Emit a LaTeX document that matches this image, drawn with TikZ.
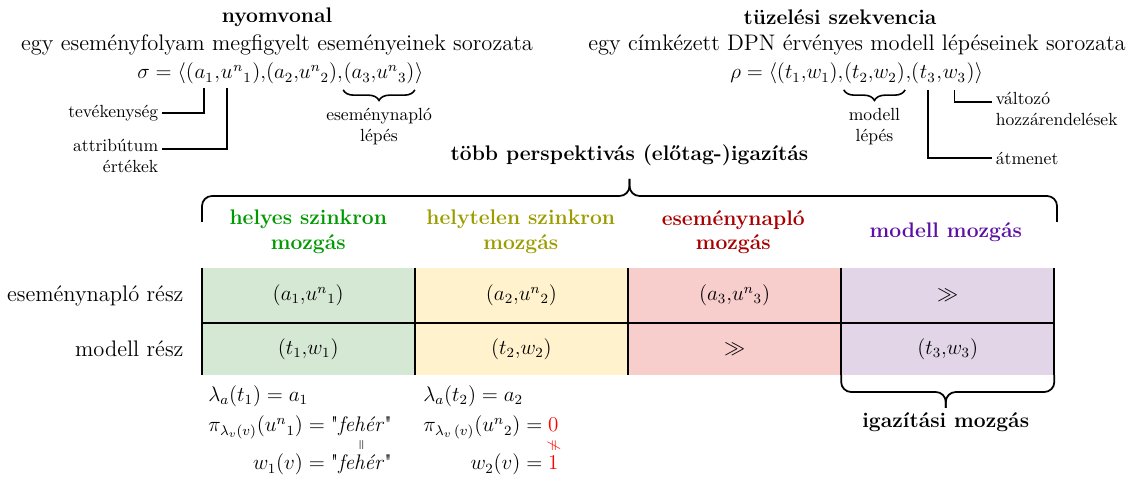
\documentclass[tikz,border=0pt]{standalone}
\usetikzlibrary{positioning,decorations.pathreplacing}
\definecolor{syncgreen}{HTML}{009900}
\definecolor{syncfill}{HTML}{D5E8D4}
\definecolor{wronggold}{HTML}{9C9C00}
\definecolor{wrongfill}{HTML}{FFF2CC}
\definecolor{logred}{HTML}{A80000}
\definecolor{logfill}{HTML}{F8CECC}
\definecolor{modelviolet}{HTML}{5E0FA6}
\definecolor{modelfill}{HTML}{E1D5E7}
\definecolor{mismatchred}{HTML}{FF0000}

\begin{document}
\begin{tikzpicture}[
    x=0.02cm, y=-0.02cm,
    every node/.style={font=\large},
    title/.style={font=\large\bfseries},
    desc/.style={font=\fontsize{12.8}{15.4}\selectfont},
    piece/.style={inner sep=0pt, anchor=base west},
    note/.style={font=\normalsize, inner sep=2pt},
    leader/.style={line width=0.9pt},
    movehead/.style={font=\large\bfseries, align=center, text=#1},
    cell/.style={minimum width=4.25cm, minimum height=#1, inner sep=0pt},
    tableline/.style={line width=1pt},
    smallbrace/.style={decorate, decoration={brace, mirror, amplitude=6pt}, line width=0.9pt},
    bigbrace/.style={rounded corners=0.2cm, line width=1pt},
]
\useasboundingbox (0,0) rectangle (1135,482);

% Trace
\node[title] (trace) at (277,17) {nyomvonal};
\node[desc] (tracedesc) at (277,45) {egy eseményfolyam megfigyelt eseményeinek sorozata};
\node[piece] (s0) at (137,79) {$\sigma = \langle($};
\node[piece] (sa1) at (s0.base east) {$a_1$};
\node[piece] (sc1) at (sa1.base east) {${,}$};
\node[piece] (su1) at (sc1.base east) {$u$};
\node[piece] (sn1) at (su1.base east) {${}^{n}{}_{1}$};
\node[piece] (s2) at (sn1.base east) {$){,}(a_2{,}u^{n}{}_{2}){,}$};
\node[piece] (s3) at (s2.base east) {$(a_3{,}u^{n}{}_{3})$};
\node[piece] (s4) at (s3.base east) {$\rangle$};

\node[note, anchor=east] (activity) at (162,113) {tevékenység};
\node[note, anchor=north east, align=right] (attrval) at (162,135) {attribútum\\értékek};

\draw[leader] ([yshift=-3pt]sa1.south) |- (activity.east);
\draw[leader] ([yshift=-3pt]su1.south |- sa1.south) |- ([yshift=-0.8em]attrval.north east);
\draw[smallbrace] ([yshift=-3pt]s3.south west) -- ([yshift=-3pt]s3.south east)
    node[midway, below=8pt, note, align=center] (logstep) {eseménynapló\\lépés};

% Firing sequence
\node[title] (firing) at (840,17) {tüzelési szekvencia};
\node[desc] (firingdesc) at (857,45) {egy címkézett DPN érvényes modell lépéseinek sorozata};
\node[piece] (r0) at (730,79) {$\rho = \langle(t_1{,}w_1){,}$};
\node[piece] (r2) at (r0.base east) {$(t_2{,}w_2)$};
\node[piece] (r2c) at (r2.base east) {${,}($};
\node[piece] (rt3) at (r2c.base east) {$t_3$};
\node[piece] (rc3) at (rt3.base east) {${,}$};
\node[piece] (rw3) at (rc3.base east) {$w_3$};
\node[piece] (r5) at (rw3.base east) {$)\rangle$};

\node[note, anchor=north west, align=left] (varassign) at (992,88) {változó\\hozzárendelések};
\node[note, anchor=west] (transition) at (992,158) {átmenet};

\draw[smallbrace] ([yshift=-3pt]r2.south west) -- ([yshift=-3pt]r2.south east)
    node[midway, below=8pt, note, align=center] (modelstep) {modell\\lépés};
\draw[leader] ([yshift=-3pt]rt3.south |- r2.south) |- (transition.west);
\draw[leader] ([yshift=-3pt]rw3.south |- r2.south) |- ([yshift=-0.8em]varassign.north west);

% Alignment brace
\node[title] (alignment) at (629.5,155) {több perspektivás (előtag-)igazítás};
\coordinate (tbl) at (202,222);
\coordinate (tbr) at (1057,222);
\coordinate (tbm) at (629.5,196);
\coordinate (tbtip) at (629.5,179);
\draw[bigbrace] (tbl) |- (tbm) -- (tbtip);
\draw[bigbrace] (tbr) |- (tbm) -- (tbtip);

% Move types
\node[movehead=syncgreen] (hsync) at (308.25,232) {helyes szinkron\\mozgás};
\node[movehead=wronggold] (hwrong) at (520.75,232) {helytelen szinkron\\mozgás};
\node[movehead=logred] (hlog) at (733.25,232) {eseménynapló\\mozgás};
\node[movehead=modelviolet] (hmodel) at (945.75,232) {modell mozgás};

% Alignment table
\node[cell=1.1cm, fill=syncfill] (e1) at (308.25,295.5) {$(a_1{,}u^{n}{}_{1})$};
\node[cell=1.1cm, fill=wrongfill, right=0pt of e1] (e2) {$(a_2{,}u^{n}{}_{2})$};
\node[cell=1.1cm, fill=logfill, right=0pt of e2] (e3) {$(a_3{,}u^{n}{}_{3})$};
\node[cell=1.1cm, fill=modelfill, right=0pt of e3] (e4) {$\gg$};
\node[cell=1.02cm, fill=syncfill, below=0pt of e1] (m1) {$(t_1{,}w_1)$};
\node[cell=1.02cm, fill=wrongfill, right=0pt of m1] (m2) {$(t_2{,}w_2)$};
\node[cell=1.02cm, fill=logfill, right=0pt of m2] (m3) {$\gg$};
\node[cell=1.02cm, fill=modelfill, right=0pt of m3] (m4) {$(t_3{,}w_3)$};

\node[desc, left=0.24cm of e1] (logpart) {eseménynapló rész};
\node[desc, left=0.24cm of m1] (modelpart) {modell rész};

\draw[tableline] (e1.south west) -- (e4.south east);
\draw[tableline] (e1.north west) -- (m1.south west);
\draw[tableline] (e2.north west) -- (m2.south west);
\draw[tableline] (e3.north west) -- (m3.south west);
\draw[tableline] (e4.north west) -- (m4.south west);
\draw[tableline] (e4.north east) -- (m4.south east);

% Alignment moves brace
\coordinate (bbm) at (945.75,392);
\coordinate (bbtip) at (945.75,408);
\draw[bigbrace] (m4.south west) |- (bbm) -- (bbtip);
\draw[bigbrace] (m4.south east) |- (bbm) -- (bbtip);
\node[title] (alignmoves) at (945.75,422) {igazítási mozgás};

% Guards of the synchronous moves
\node[anchor=base west, inner sep=0pt] (lam1) at (208,401) {$\lambda_a(t_1) = a_1$};
\node[anchor=base west, inner sep=0pt] (pi1) at (208,432) {$\pi_{\lambda_v(v)}(u^{n}{}_{1}) = {}$\textquotedbl\textit{fehér}\textquotedbl};
\node[anchor=base east, inner sep=0pt] (w1) at ([yshift=-0.76cm]pi1.base east) {$w_1(v) = {}$\textquotedbl\textit{fehér}\textquotedbl};
\node[rotate=90, font=\scriptsize, inner sep=0pt] (eq1) at ([xshift=-0.6cm, yshift=-0.27cm]pi1.base east) {$=$};

\node[anchor=base west, inner sep=0pt] (lam2) at (423,401) {$\lambda_a(t_2) = a_2$};
\node[anchor=base west, inner sep=0pt] (pi2) at (423,432) {$\pi_{\lambda_v\,(v)}(u^{n}{}_{2}) = \textcolor{mismatchred}{0}$};
\node[anchor=base east, inner sep=0pt] (w2) at ([yshift=-0.76cm]pi2.base east) {$w_2(v) = \textcolor{mismatchred}{1}$};
\node[rotate=90, font=\footnotesize, text=mismatchred, inner sep=0pt] (neq2) at ([xshift=-0.1cm, yshift=-0.27cm]pi2.base east) {$\neq$};

\end{tikzpicture}
\end{document}
